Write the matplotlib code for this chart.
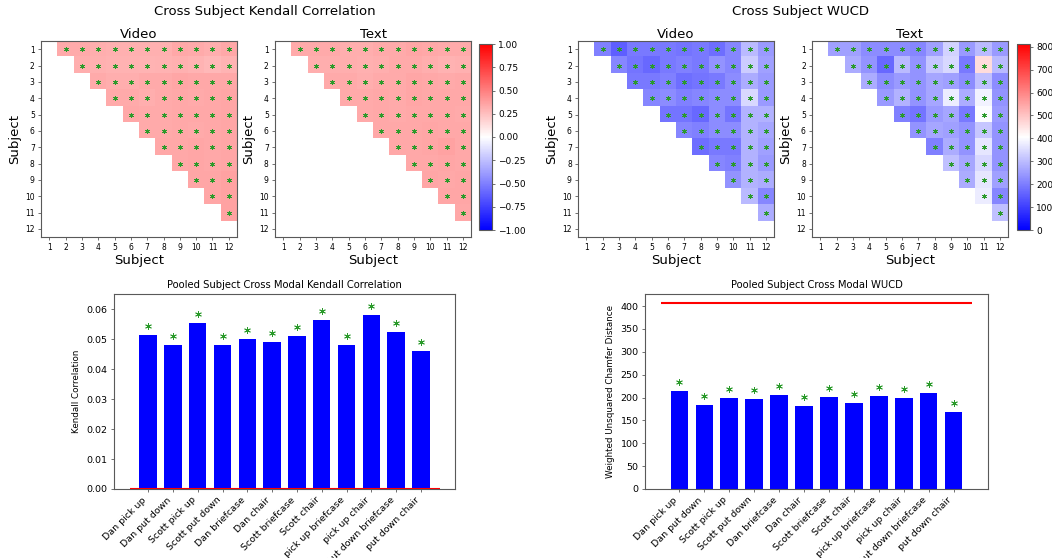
import numpy as np
import matplotlib
matplotlib.use("Agg")
import matplotlib.pyplot as plt
from matplotlib.transforms import ScaledTranslation

# ---------------- data ----------------
subjects = [str(i) for i in range(1, 13)]

kendall_video_rows = [
    [0.33, 0.33, 0.32, 0.31, 0.31, 0.31, 0.31, 0.34, 0.33, 0.32, 0.34],
    [0.32, 0.31, 0.30, 0.30, 0.29, 0.30, 0.31, 0.29, 0.28, 0.29],
    [0.33, 0.32, 0.32, 0.33, 0.33, 0.35, 0.34, 0.34, 0.34],
    [0.33, 0.33, 0.32, 0.33, 0.34, 0.33, 0.34, 0.35],
    [0.34, 0.33, 0.33, 0.34, 0.34, 0.34, 0.35],
    [0.33, 0.33, 0.34, 0.33, 0.34, 0.35],
    [0.34, 0.34, 0.35, 0.34, 0.35],
    [0.34, 0.35, 0.34, 0.35],
    [0.35, 0.35, 0.36],
    [0.35, 0.36],
    [0.36],
]
kendall_text_rows = [
    [0.33, 0.33, 0.33, 0.32, 0.32, 0.33, 0.33, 0.35, 0.34, 0.33, 0.33],
    [0.32, 0.32, 0.32, 0.31, 0.32, 0.33, 0.33, 0.32, 0.30, 0.31],
    [0.33, 0.33, 0.32, 0.33, 0.33, 0.35, 0.34, 0.33, 0.34],
    [0.33, 0.33, 0.34, 0.33, 0.35, 0.34, 0.34, 0.34],
    [0.33, 0.34, 0.33, 0.34, 0.34, 0.34, 0.33],
    [0.34, 0.34, 0.34, 0.35, 0.34, 0.34],
    [0.34, 0.34, 0.35, 0.36, 0.34],
    [0.34, 0.34, 0.35, 0.34],
    [0.35, 0.34, 0.35],
    [0.35, 0.35],
    [0.34],
]
wucd_video_rows = [
    [205, 150, 195, 195, 195, 185, 195, 175, 215, 295, 245],
    [215, 185, 165, 195, 205, 195, 235, 215, 325, 255],
    [195, 195, 205, 175, 185, 195, 225, 275, 245],
    [215, 225, 205, 215, 225, 225, 345, 245],
    [185, 185, 165, 225, 185, 285, 285],
    [215, 205, 225, 225, 285, 265],
    [175, 195, 195, 285, 255],
    [215, 205, 285, 245],
    [235, 285, 275],
    [295, 215],
    [275],
]
wucd_text_rows = [
    [255, 255, 225, 225, 225, 215, 255, 335, 245, 295, 245],
    [275, 235, 165, 295, 235, 315, 345, 195, 460, 295],
    [275, 225, 245, 235, 265, 255, 225, 305, 225],
    [245, 285, 235, 265, 375, 275, 385, 235],
    [205, 185, 245, 265, 195, 400, 245],
    [235, 265, 255, 235, 315, 235],
    [205, 275, 235, 365, 235],
    [305, 265, 345, 235],
    [275, 365, 255],
    [375, 215],
    [305],
]

conditions = ["Dan pick up", "Dan put down", "Scott pick up", "Scott put down",
              "Dan briefcase", "Dan chair", "Scott briefcase", "Scott chair",
              "pick up briefcase", "pick up chair", "put down briefcase", "put down chair"]
pooled_kendall = [0.0515, 0.0481, 0.0555, 0.0480, 0.0500, 0.0490, 0.0510, 0.0563,
                  0.0481, 0.0582, 0.0524, 0.0462]
pooled_wucd = [215, 183, 198, 197, 205, 182, 202, 188, 203, 199, 210, 168]
kendall_chance = 0.0
wucd_chance = 406
kendall_range = (-1.0, 1.0)
wucd_range = (0, 2 * wucd_chance)


def to_matrix(rows):
    n = len(rows) + 1
    m = np.full((n, n), np.nan)
    for i, r in enumerate(rows):
        m[i, i + 1:] = r
    return m


# ---------------- figure ----------------
W, H = 1052, 558
fig = plt.figure(figsize=(W / 100, H / 100), dpi=100)


def px_axes(left, top, w, h):
    return fig.add_axes([left / W, 1 - (top + h) / H, w / W, h / H])


edge = "0.35"
star_green = "#2a9a2a"


def heatmap(ax, mat, title, vmin, vmax):
    im = ax.imshow(mat, cmap="bwr", vmin=vmin, vmax=vmax)
    rr, cc = np.where(~np.isnan(mat))
    ax.plot(cc, rr, linestyle="none", marker=(6, 2, 0), ms=3.6, color=star_green, mew=0.5)
    ax.set_xticks(range(len(subjects)))
    ax.set_yticks(range(len(subjects)))
    ax.set_xticklabels(subjects, fontsize=5.5)
    ax.set_yticklabels(subjects, fontsize=5.5)
    ax.tick_params(length=2.5, width=0.6, pad=2, color=edge)
    ax.set_xlabel("Subject", fontsize=9.5, labelpad=1)
    ax.set_ylabel("Subject", fontsize=9.5, labelpad=3)
    ax.set_title(title, fontsize=9.5, pad=2)
    for s in ax.spines.values():
        s.set_color(edge)
    return im


ax1 = px_axes(41, 41, 196, 196)
ax2 = px_axes(275, 41, 196, 196)
cax1 = px_axes(479, 44, 13, 186)
ax3 = px_axes(578, 41, 196, 196)
ax4 = px_axes(812, 41, 196, 196)
cax2 = px_axes(1017, 44, 13, 186)

heatmap(ax1, to_matrix(kendall_video_rows), "Video", *kendall_range)
im2 = heatmap(ax2, to_matrix(kendall_text_rows), "Text", *kendall_range)
heatmap(ax3, to_matrix(wucd_video_rows), "Video", *wucd_range)
im4 = heatmap(ax4, to_matrix(wucd_text_rows), "Text", *wucd_range)

cb1 = fig.colorbar(im2, cax=cax1)
cb1.set_ticks(np.linspace(-1, 1, 9))
cb1.ax.set_yticklabels([f"{t:.2f}".replace("-", "\u2212") for t in np.linspace(-1, 1, 9)])
cb2 = fig.colorbar(im4, cax=cax2)
cb2.set_ticks(range(0, 801, 100))
for cb in (cb1, cb2):
    cb.ax.tick_params(labelsize=6.5, length=2.5, width=0.6, pad=2, color=edge)
    cb.outline.set_edgecolor(edge)

fig.text(265 / W, 1 - 12 / H, "Cross Subject Kendall Correlation", ha="center", va="center", fontsize=9.5)
fig.text(800 / W, 1 - 12 / H, "Cross Subject WUCD", ha="center", va="center", fontsize=9.5)


def barplot(ax, values, chance, title, ylabel, top):
    x = np.arange(len(values))
    ax.bar(x, values, width=0.7, color="blue")
    ax.hlines(chance, -0.75, len(values) - 0.25, color="red", lw=1.5, zorder=3)
    off = ax.transData + ScaledTranslation(0, 9 / 100, fig.dpi_scale_trans)
    ax.plot(x, values, linestyle="none", marker=(6, 2, 0), ms=4.8, color=star_green,
            mew=0.6, transform=off)
    ax.set_xticks(x)
    ax.set_xticklabels(conditions, rotation=45, ha="right", fontsize=6.8)
    ax.tick_params(axis="y", labelsize=6.8)
    ax.tick_params(length=2.5, width=0.6, pad=2, color=edge)
    ax.set_ylim(0, top)
    ax.set_title(title, fontsize=7.2, pad=4)
    ax.set_ylabel(ylabel, fontsize=6.3)
    for s in ax.spines.values():
        s.set_color(edge)


bx1 = px_axes(114, 294, 341, 195)
bx2 = px_axes(645, 294, 343, 195)
barplot(bx1, pooled_kendall, kendall_chance, "Pooled Subject Cross Modal Kendall Correlation",
        "Kendall Correlation", 0.0651)
barplot(bx2, pooled_wucd, wucd_chance, "Pooled Subject Cross Modal WUCD",
        "Weighted Unsquared Chamfer Distance", wucd_chance * 1.05)

fig.savefig("out.png", dpi=100)
